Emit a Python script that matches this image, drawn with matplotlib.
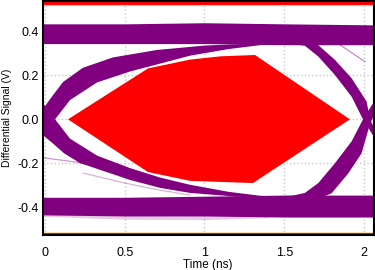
import matplotlib
matplotlib.use("Agg")
import matplotlib.pyplot as plt

plt.rcParams['font.family'] = ['Liberation Sans', 'DejaVu Sans']

# axis ticks
time_ticks = [0, 0.5, 1, 1.5, 2]
time_labels = ['0', '0.5', '1', '1.5', '2']
volt_ticks = [-0.4, -0.2, 0.0, 0.2, 0.4]
volt_labels = ['-0.4', '-0.2', '0.0', '0.2', '0.4']

# eye mask (red hexagon) + upper/lower keep-out limits
mask_t = [0.144, 0.646, 0.909, 1.10, 1.317, 1.912, 1.304, 1.10, 0.909, 0.646]
mask_v = [0.0, 0.232, 0.272, 0.287, 0.293, 0.0, -0.29, -0.285, -0.28, -0.24]
mask_top = 0.523
mask_bottom = -0.515

# logic high / low bands
level_t = [-0.03, 0.5, 1.0, 1.5, 2.1]
high_upper = [0.435, 0.435, 0.44, 0.435, 0.43]
high_lower = [0.345, 0.345, 0.345, 0.34, 0.34]
low_upper = [-0.355, -0.355, -0.35, -0.345, -0.345]
low_lower = [-0.435, -0.44, -0.44, -0.445, -0.445]
haze_t = [0.0, 0.5, 1.0, 1.4]
haze_v = [-0.442, -0.455, -0.457, -0.448]

# rising edge after the left crossing
rl_out_t = [-0.03, 0.0, 0.05, 0.113, 0.238, 0.426, 0.702, 1.0, 1.3, 1.5]
rl_out_v = [0.03, 0.06, 0.11, 0.17, 0.235, 0.282, 0.316, 0.336, 0.345, 0.35]
rl_in_t = [-0.03, 0.063, 0.157, 0.326, 0.533, 0.702, 0.909, 1.15, 1.35, 1.5]
rl_in_v = [-0.09, 0.0, 0.088, 0.168, 0.218, 0.25, 0.29, 0.32, 0.338, 0.345]

# falling edge after the left crossing
fl_out_t = [-0.03, 0.0, 0.05, 0.12, 0.219, 0.533, 0.721, 0.909, 1.2, 1.5]
fl_out_v = [-0.06, -0.08, -0.11, -0.155, -0.199, -0.276, -0.312, -0.335, -0.352, -0.36]
fl_in_t = [-0.03, 0.063, 0.157, 0.326, 0.533, 0.721, 0.909, 1.15, 1.35, 1.5]
fl_in_v = [0.09, 0.0, -0.088, -0.165, -0.222, -0.265, -0.298, -0.33, -0.348, -0.355]

# falling edge into the right crossing
fr_in_t = [1.45, 1.55, 1.63, 1.714, 1.818, 1.923, 1.994, 2.08]
fr_in_v = [0.345, 0.343, 0.335, 0.286, 0.202, 0.103, 0.0, -0.1]
fr_out_t = [1.5, 1.65, 1.712, 1.818, 1.923, 2.017, 2.038, 2.1]
fr_out_v = [0.38, 0.36, 0.339, 0.271, 0.187, 0.081, 0.0, -0.09]

# rising edge into the right crossing
rr_in_t = [1.45, 1.55, 1.63, 1.714, 1.818, 1.923, 1.994, 2.08]
rr_in_v = [-0.35, -0.348, -0.335, -0.29, -0.2, -0.1, 0.0, 0.1]
rr_out_t = [1.5, 1.65, 1.72, 1.797, 1.902, 1.985, 2.038, 2.1]
rr_out_v = [-0.385, -0.37, -0.36, -0.337, -0.246, -0.155, -0.02, 0.07]

# stray traces
stray1_t = [-0.02, 0.0, 0.2, 0.4, 0.6, 0.8, 0.95]
stray1_v = [-0.17, -0.176, -0.195, -0.225, -0.26, -0.295, -0.325]
stray2_t = [0.24, 0.5, 0.7, 0.909]
stray2_v = [-0.245, -0.29, -0.32, -0.345]
stray3_t = [1.85, 1.93, 2.006]
stray3_v = [0.339, 0.3, 0.263]

PURPLE = '#800080'


def band(ax, t1, v1, t2, v2, **kw):
    ax.fill(list(t1) + list(t2)[::-1], list(v1) + list(v2)[::-1], **kw)


fig = plt.figure(figsize=(3.75, 2.7), dpi=100)
ax = fig.add_axes([0.1139, 0.1278, 0.8821, 0.8685])

# mask
ax.axhspan(mask_top, 1, color='#ff0000', lw=0, zorder=1)
ax.axhspan(-1, mask_bottom, color='#ff0000', lw=0, zorder=1)
ax.axhline(mask_top - 0.004, color='#ffb8b8', lw=0.8, zorder=1)
ax.axhline(mask_bottom + 0.004, color='#ffe2b0', lw=0.8, zorder=1)
ax.fill(mask_t, mask_v, color='#ff0000', lw=0, zorder=2)

# eye traces
ax.fill_between(level_t, high_lower, high_upper, color=PURPLE, lw=0, zorder=3)
ax.fill_between(level_t, low_lower, low_upper, color=PURPLE, lw=0, zorder=3)
ax.fill_between(haze_t, haze_v, [-0.435] * len(haze_t), color=PURPLE, alpha=0.2, lw=0, zorder=3)
band(ax, rl_out_t, rl_out_v, rl_in_t, rl_in_v, color=PURPLE, lw=0, zorder=3)
band(ax, fl_out_t, fl_out_v, fl_in_t, fl_in_v, color=PURPLE, lw=0, zorder=3)
band(ax, fr_in_t, fr_in_v, fr_out_t, fr_out_v, color=PURPLE, lw=0, zorder=3)
band(ax, rr_in_t, rr_in_v, rr_out_t, rr_out_v, color=PURPLE, lw=0, zorder=3)
ax.plot(stray1_t, stray1_v, color=PURPLE, alpha=0.4, lw=0.9, zorder=3)
ax.plot(stray2_t, stray2_v, color=PURPLE, alpha=0.3, lw=0.9, zorder=3)
ax.plot(stray3_t, stray3_v, color=PURPLE, alpha=0.5, lw=0.8, zorder=3)

ax.set_xlim(-0.0144, 2.06)
ax.set_ylim(-0.529, 0.539)
ax.set_xticks(time_ticks)
ax.set_xticklabels(time_labels)
ax.set_yticks(volt_ticks)
ax.set_yticklabels(volt_labels)
ax.tick_params(axis='both', length=0, labelsize=9)
ax.tick_params(axis='x', pad=8)
ax.tick_params(axis='y', pad=2.7)
ax.grid(True, color='#c8c8c8', linestyle=':', lw=1)
ax.set_axisbelow(True)
for s in ax.spines.values():
    s.set_linewidth(1.5)
    s.set_color('black')
    s.set_zorder(5)

ax.set_xlabel("Time (ns)", fontsize=8.5, labelpad=0)
ax.set_ylabel("Differential Signal (V)", fontsize=7.5, labelpad=4)

fig.savefig("out.png", dpi=100)
